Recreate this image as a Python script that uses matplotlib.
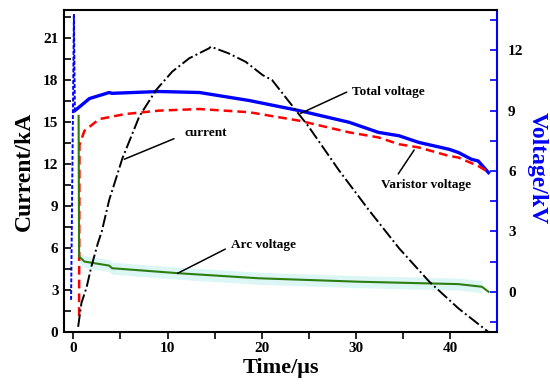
import numpy as np
import matplotlib
matplotlib.use("Agg")
import matplotlib.pyplot as plt

plt.rcParams['font.family'] = ['Liberation Serif', 'DejaVu Serif']
plt.rcParams['font.weight'] = 'bold'

# current (kA)
t_cur = [0.5, 0.85, 1.4, 1.9, 2.6, 3.0, 3.8, 5.2, 7.0, 8.8, 10.5, 12.3, 14.4, 14.6,
         16.5, 18.3, 20.1, 21.1, 25.0, 28.2, 31.4, 34.6, 37.8, 40.9, 44.1]
i_cur = [0.37, 2.07, 3.2, 4.66, 6.35, 7.16, 9.43, 12.4, 15.4, 17.3, 18.6, 19.55, 20.26, 20.38,
         19.9, 19.3, 18.35, 18.0, 14.66, 11.56, 8.7, 5.98, 3.6, 1.69, 0.0]

# total voltage (kV)
t_tot = [-0.25, 0.05, 0.15, 0.6, 1.7, 3.8, 4.1, 9.1, 13.4, 18.7, 24.0, 29.3, 32.4,
         34.6, 36.7, 39.9, 40.9, 42.3, 43.0, 43.8, 44.1]
v_tot = [-0.4, 13.8, 9.0, 9.17, 9.6, 9.9, 9.86, 9.95, 9.9, 9.5, 9.0, 8.42, 7.92,
         7.75, 7.42, 7.08, 6.92, 6.58, 6.5, 6.08, 5.92]

# varistor voltage (kV)
t_var = [0.6, 0.64, 1.17, 2.75, 5.5, 9.1, 13.4, 18.7, 24.0, 29.3, 32.4, 34.6, 36.7,
         39.9, 40.9, 43.0, 43.9]
v_var = [-1.2, 7.3, 8.0, 8.58, 8.83, 9.0, 9.08, 8.92, 8.5, 7.92, 7.67, 7.33, 7.17,
         6.75, 6.67, 6.25, 6.0]

# arc voltage (kV)
t_arc = [0.55, 0.6, 1.17, 3.8, 4.1, 11.2, 19.7, 30.3, 40.9, 43.4, 44.1]
v_arc = [8.74, 1.75, 1.5, 1.3, 1.17, 0.92, 0.67, 0.5, 0.38, 0.25, 0.0]

fig = plt.figure(figsize=(5.5, 3.92), dpi=100)
ax = fig.add_axes([0.1164, 0.153, 0.7872, 0.8215])
ax2 = ax.twinx()

# light band behind the arc voltage
ax2.fill_between(t_arc[1:-1], np.array(v_arc[1:-1]) - 0.3, np.array(v_arc[1:-1]) + 0.3,
                 color='#dcf6f6', lw=0, zorder=1)
ax2.plot(t_tot[:3], v_tot[:3], color='#0000ff', lw=1.4, ls=(0, (2, 1)), zorder=3)
ax2.plot(t_tot[2:], v_tot[2:], color='#0000ff', lw=2.4, zorder=3)
ax2.plot(t_var, v_var, color='#ff0000', lw=1.8, ls=(0, (3.5, 2)), zorder=3)
ax2.plot(t_arc, v_arc, color='#2e7d12', lw=1.5, zorder=3)
ax.plot(t_cur, i_cur, color='black', lw=1.4, ls='-.', zorder=4)

ax.set_xlim(-1, 45)
ax.set_ylim(0, 23)
ax2.set_ylim(-2, 14)
ax.set_zorder(ax2.get_zorder() + 1)
ax.patch.set_visible(False)

ax.set_xticks([0, 10, 20, 30, 40])
ax.set_xticks([5, 15, 25, 35], minor=True)
ax.set_yticks(np.arange(0, 22, 3))
ax.set_yticks(np.arange(1.5, 23, 3), minor=True)
ax2.set_yticks([0, 3, 6, 9, 12])
ax2.set_yticks([-1.5, 1.5, 4.5, 7.5, 10.5, 13.5], minor=True)

ax.tick_params(axis='x', direction='out', length=5, width=1.2, labelsize=11, pad=2)
ax.tick_params(axis='x', which='minor', direction='out', length=5, width=1.2)
ax.tick_params(axis='y', direction='in', length=5, width=1.2, labelsize=11, pad=4)
ax.tick_params(axis='y', which='minor', direction='in', length=5, width=1.2)
ax2.tick_params(axis='y', direction='in', length=5, width=1.2, color='#0000ff',
                labelsize=11, pad=8)
ax2.tick_params(axis='y', which='minor', direction='in', length=5, width=1.2, color='#0000ff')
for lab in ax.get_xticklabels() + ax.get_yticklabels() + ax2.get_yticklabels():
    lab.set_fontweight('bold')

for s in ['left', 'bottom', 'top']:
    ax.spines[s].set_linewidth(1.5)
ax.spines['right'].set_visible(False)
ax2.spines['right'].set_color('#0000ff')
ax2.spines['right'].set_linewidth(1.5)
for s in ['left', 'bottom', 'top']:
    ax2.spines[s].set_visible(False)

ax.set_xlabel('Time/μs', fontsize=16, fontweight='bold', labelpad=2)
ax.set_ylabel('Current/kA', fontsize=17, fontweight='bold', labelpad=6)
ax2.set_ylabel('Voltage/kV', fontsize=17, fontweight='bold', color='#0000ff',
               rotation=270, va='center', ha='center')
ax2.yaxis.set_label_coords(1.093, 0.508)

lw = dict(arrowstyle='-', lw=1.1, color='black', shrinkA=2, shrinkB=0)
ax.annotate('Total voltage', xy=(24.15, 15.62), xytext=(29.6, 17.14), fontsize=9.5,
            fontweight='bold', ha='left', va='center', arrowprops=dict(lw, relpos=(0, 0.7)))
ax.annotate('Varistor voltage', xy=(36.2, 13.0), xytext=(37.5, 10.5), fontsize=9.5,
            fontweight='bold', ha='center', va='center', arrowprops=dict(lw, relpos=(0.15, 1)))
ax.annotate('current', xy=(5.4, 12.34), xytext=(14.05, 14.2), fontsize=9.5,
            fontweight='bold', ha='center', va='center',
            arrowprops=dict(lw, relpos=(0, 0.4), shrinkA=6))
ax.annotate('Arc voltage', xy=(11.06, 4.19), xytext=(20.15, 6.2), fontsize=9.5,
            fontweight='bold', ha='center', va='center', arrowprops=dict(lw, relpos=(0, 0.4)))

fig.savefig('out.png', dpi=100)
